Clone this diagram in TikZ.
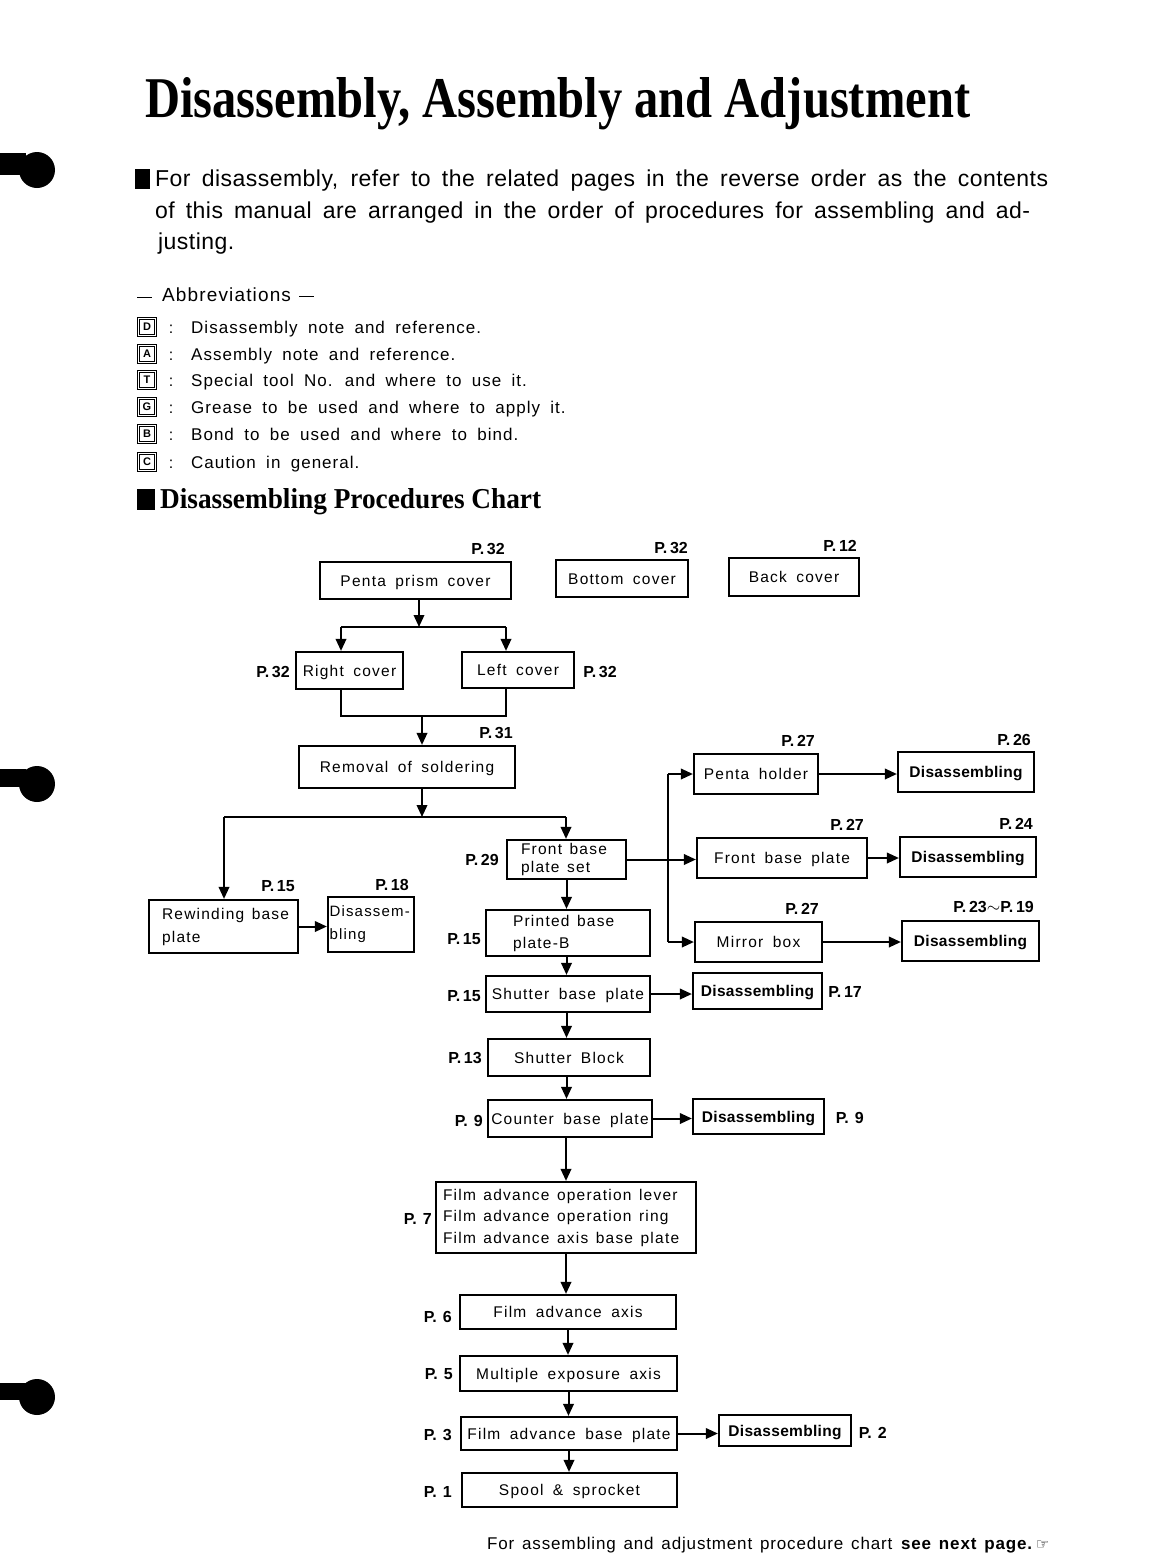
\documentclass[tikz,border=0pt]{standalone}
\usepackage{fontspec}
\usepackage{graphicx}
\usetikzlibrary{arrows.meta}
\setmainfont{Liberation Sans}
\newfontfamily\boxf[LetterSpace=8,WordSpace=1.7]{Liberation Sans}
\newfontfamily\disf[LetterSpace=2]{Liberation Sans}
\newfontfamily\pfont{Liberation Sans}
\newfontfamily\parf[LetterSpace=2]{Liberation Sans}
\newfontfamily\abf[LetterSpace=6,WordSpace=1.8]{Liberation Sans}
\newfontfamily\ftf[LetterSpace=5,WordSpace=1.4]{Liberation Sans}
\newfontfamily\titf{Liberation Serif}
\newfontfamily\symf{DejaVu Sans}
\newcommand\pgl[1]{P.\,#1}
\newcommand\wsp{\hspace{7.5pt}}
\tikzset{
  bx/.style={draw, line width=2.2pt, inner sep=0pt, text height=11pt, text depth=0pt, font=\boxf\fontsize{15.5}{21.5}\selectfont},
  mbx/.style={bx, text height=, text depth=},
  dbx/.style={draw, line width=2.2pt, inner sep=0pt, text height=11pt, text depth=0pt, font=\disf\bfseries\fontsize{15.5}{18}\selectfont},
  pl/.style={inner sep=0pt, font=\pfont\bfseries\fontsize{16}{16}\selectfont},
  arr/.style={line width=2pt, -{Triangle[length=12pt,width=10.5pt]}},
  ln/.style={line width=2pt},
  txt/.style={inner sep=0pt, anchor=base west},
  icon/.style={draw, line width=1.3pt, double, double distance=0.8pt, minimum size=17.5pt, inner sep=0pt, font=\bfseries\fontsize{11}{11}\selectfont},
  abt/.style={inner sep=0pt, anchor=base west, font=\abf\fontsize{17}{17}\selectfont},
  colon/.style={inner sep=0pt, anchor=base, font=\fontsize{16}{16}\selectfont}
}
\begin{document}
\begin{tikzpicture}[x=1pt,y=-1pt]
\useasboundingbox (0,0) rectangle (1152,1564);
\fill[white] (0,0) rectangle (1152,1564);

% punch holes
\fill (37,170) circle (18); \fill (0,153) rectangle (26,175);
\fill (37,784) circle (18); \fill (0,769) rectangle (26,787);
\fill (37,1397) circle (18); \fill (0,1383) rectangle (26,1400);

% title
\node[txt] (title) at (145,117) {\resizebox{825pt}{40pt}{\titf\bfseries Disassembly, Assembly and Adjustment}};

% paragraph
\fill (135,169) rectangle (150,189);
\node[txt] (p1) at (155,186) {\parf\fontsize{23}{23}\selectfont\makebox[893pt][s]{For disassembly, refer to the related pages in the reverse order as the contents}};
\node[txt] (p2) at (155,218) {\parf\fontsize{23}{23}\selectfont\makebox[875pt][s]{of this manual are arranged in the order of procedures for assembling and ad-}};
\node[txt] (p3) at (158,249) {\parf\fontsize{23}{23}\selectfont justing.};

% abbreviations
\node[abt, font=\abf\fontsize{19}{19}\selectfont] (abh) at (137,301) {\raisebox{3pt}{\rule{15pt}{1.5pt}}\hspace{10pt}Abbreviations\hspace{8pt}\raisebox{4pt}{\rule{15pt}{1.5pt}}};
\node[icon] (iD) at (147,327) {D};
\node[icon] (iA) at (147,354) {A};
\node[icon] (iT) at (147,380) {T};
\node[icon] (iG) at (147,407) {G};
\node[icon] (iB) at (147,434) {B};
\node[icon] (iC) at (147,462) {C};
\node[colon] (cD) at (171,333) {:};
\node[colon] (cA) at (171,360) {:};
\node[colon] (cT) at (171,386) {:};
\node[colon] (cG) at (171,413) {:};
\node[colon] (cB) at (171,440) {:};
\node[colon] (cC) at (171,468) {:};
\node[abt] (tD) at (191,333) {Disassembly note and reference.};
\node[abt] (tA) at (191,360) {Assembly note and reference.};
\node[abt] (tT) at (191,386) {Special tool No. and where to use it.};
\node[abt] (tG) at (191,413) {Grease to be used and where to apply it.};
\node[abt] (tB) at (191,440) {Bond to be used and where to bind.};
\node[abt] (tC) at (191,468) {Caution in general.};

% heading
\fill (137,489) rectangle (155,510);
\node[txt] (head) at (160,508) {\resizebox{381pt}{20pt}{\titf\bfseries Disassembling Procedures Chart}};

% ---- chart boxes ----
\node[bx, minimum width=191, minimum height=37] (pp) at (415.5,580.5) {Penta prism cover};
\node[bx, minimum width=132, minimum height=37] (bc) at (622,578.5) {Bottom cover};
\node[bx, minimum width=130, minimum height=38] (bk) at (794,577) {Back cover};
\node[bx, minimum width=107, minimum height=37] (rc) at (349.5,670.5) {Right cover};
\node[bx, minimum width=112, minimum height=36] (lc) at (518,670) {Left cover};
\node[bx, minimum width=216, minimum height=42] (rem) at (407,767) {Removal of soldering};
\node[mbx, minimum height=39, align=left, inner xsep=14pt, text width=91pt, font=\boxf\fontsize{15.5}{18}\selectfont] (fbps) at (566.5,859.5) {\mbox{Front\wsp base}\\\mbox{plate\wsp set}};
\node[mbx, minimum height=53, align=left, inner xsep=13pt, text width=123pt, font=\boxf\fontsize{15.5}{23}\selectfont] (rwb) at (223.5,926.5) {\mbox{Rewinding\wsp base}\\plate};
\node[mbx, minimum height=55, align=left, inner xsep=1.5pt, text width=83pt, font=\boxf\fontsize{15}{23}\selectfont] (dl) at (371,924.5) {Disassem-\\bling};
\node[mbx, minimum height=46, align=left, inner xsep=27pt, text width=110pt, font=\boxf\fontsize{15.5}{22}\selectfont] (pbb) at (568,933) {\mbox{Printed\wsp base}\\plate-B};
\node[bx, minimum width=164, minimum height=36] (sbp) at (568,994) {Shutter base plate};
\node[bx, minimum width=162, minimum height=37] (sb) at (569,1057.5) {Shutter Block};
\node[bx, minimum width=164, minimum height=37] (cbp) at (570,1118.5) {Counter base plate};
\node[mbx, minimum height=71, align=left, inner xsep=7pt, text width=246pt] (fa) at (566,1217.5) {\mbox{Film\wsp advance\wsp operation\wsp lever}\\\mbox{Film\wsp advance\wsp operation\wsp ring}\\\mbox{Film\wsp advance\wsp axis\wsp base\wsp plate}};
\node[bx, minimum width=216, minimum height=34] (faa) at (568,1312) {Film advance axis};
\node[bx, minimum width=217, minimum height=35] (mea) at (568.5,1373.5) {Multiple exposure axis};
\node[bx, minimum width=216, minimum height=33] (fabp) at (569,1433.5) {Film advance base plate};
\node[bx, minimum width=215, minimum height=34] (ss) at (569.5,1490) {Spool \& sprocket};
\node[dbx, minimum width=132, minimum height=31] (d2) at (785,1430.5) {Disassembling};
\node[dbx, minimum width=131, minimum height=35] (d9) at (758.5,1116.5) {Disassembling};
\node[dbx, minimum width=129, minimum height=36] (d17) at (757.5,991) {Disassembling};
\node[bx, minimum width=124, minimum height=40] (ph) at (756,774) {Penta holder};
\node[bx, minimum width=170, minimum height=40] (fbp) at (782,858) {Front base plate};
\node[bx, minimum width=127, minimum height=40] (mb) at (758.5,942) {Mirror box};
\node[dbx, minimum width=136, minimum height=40] (d26) at (966,772) {Disassembling};
\node[dbx, minimum width=136, minimum height=40] (d24) at (968,857) {Disassembling};
\node[dbx, minimum width=137, minimum height=40] (d23) at (970.5,941) {Disassembling};

% ---- page labels ----
\node[pl, anchor=east] (lpp) at (505,549) {\pgl{32}};
\node[pl, anchor=east] (lbc) at (688,548) {\pgl{32}};
\node[pl, anchor=east] (lbk) at (857,546) {\pgl{12}};
\node[pl, anchor=east] (lrc) at (290,672) {\pgl{32}};
\node[pl, anchor=east] (llc) at (617,672) {\pgl{32}};
\node[pl, anchor=east] (lrem) at (513,733) {\pgl{31}};
\node[pl, anchor=east] (lph) at (815,741) {\pgl{27}};
\node[pl, anchor=east] (ld26) at (1031,740) {\pgl{26}};
\node[pl, anchor=east] (lfbp) at (864,825) {\pgl{27}};
\node[pl, anchor=east] (ld24) at (1033,824) {\pgl{24}};
\node[pl, anchor=east] (lfbps) at (499,860) {\pgl{29}};
\node[pl, anchor=east] (lrwb) at (295,886) {\pgl{15}};
\node[pl, anchor=east] (ldl) at (409,885) {\pgl{18}};
\node[pl, anchor=east] (lmb) at (819,909) {\pgl{27}};
\node[pl, anchor=east] (ld23) at (1034,907) {\pgl{23}$\sim$\pgl{19}};
\node[pl, anchor=east] (lpbb) at (481,939) {\pgl{15}};
\node[pl, anchor=east] (lsbp) at (481,996) {\pgl{15}};
\node[pl, anchor=east] (ld17) at (862,992) {\pgl{17}};
\node[pl, anchor=east] (lsb) at (482,1058) {\pgl{13}};
\node[pl, anchor=east] (lcbp) at (483,1121) {P.\hspace{6pt}9};
\node[pl, anchor=east] (ld9) at (864,1118) {P.\hspace{6pt}9};
\node[pl, anchor=east] (lfa) at (432,1219) {P.\hspace{6pt}7};
\node[pl, anchor=east] (lfaa) at (452,1317) {P.\hspace{6pt}6};
\node[pl, anchor=east] (lmea) at (453,1374) {P.\hspace{6pt}5};
\node[pl, anchor=east] (lfabp) at (452,1435) {P.\hspace{6pt}3};
\node[pl, anchor=east] (ld2) at (887,1433) {P.\hspace{6pt}2};
\node[pl, anchor=east] (lss) at (452,1492) {P.\hspace{6pt}1};

% ---- connectors ----
\coordinate (j1) at (419,627);
\coordinate (j1L) at (341,627);
\coordinate (j1R) at (506,627);
\draw[arr] (pp.south -| j1) -- (j1);
\draw[ln] (j1L) -- (j1R);
\draw[arr] (j1L) -- (j1L |- rc.north);
\draw[arr] (j1R) -- (j1R |- lc.north);
\coordinate (j2) at (422,716);
\coordinate (j2L) at (341,716);
\coordinate (j2R) at (506,716);
\draw[ln] (j2L |- rc.south) -- (j2L) -- (j2R) -- (j2R |- lc.south);
\draw[arr] (j2) -- (j2 |- rem.north);
\coordinate (j3) at (422,817);
\coordinate (j3L) at (224,817);
\coordinate (j3R) at (566,817);
\draw[arr] (rem.south -| j3) -- (j3);
\draw[ln] (j3L) -- (j3R);
\draw[arr] (j3L) -- (j3L |- rwb.north);
\draw[arr] (j3R) -- (j3R |- fbps.north);
\draw[arr] (rwb.east) -- (rwb.east -| dl.west);
\draw[arr] (fbps.south) -- (fbps.south |- pbb.north);
\draw[arr] (pbb.south -| fbps.south) -- (fbps.south |- sbp.north);
\draw[arr] (sbp.south -| fbps.south) -- (fbps.south |- sb.north);
\draw[arr] (sb.south -| fbps.south) -- (fbps.south |- cbp.north);
\draw[arr] (cbp.south -| fa.south) -- (fa.north);
\draw[arr] (fa.south) -- (fa.south |- faa.north);
\draw[arr] (faa.south) -- (faa.south |- mea.north);
\draw[arr] (mea.south) -- (mea.south |- fabp.north);
\draw[arr] (fabp.south) -- (fabp.south |- ss.north);
\coordinate (v1) at (668,774);
\coordinate (v2) at (668,942);
\draw[arr] (fbps.east) -- (fbps.east -| fbp.west);
\draw[ln] (v1) -- (v2);
\draw[arr] (v1) -- (ph.west);
\draw[arr] (v2) -- (mb.west);
\draw[arr] (ph.east) -- (ph.east -| d26.west);
\draw[arr] (fbp.east) -- (fbp.east -| d24.west);
\draw[arr] (mb.east) -- (mb.east -| d23.west);
\draw[arr] (sbp.east) -- (sbp.east -| d17.west);
\draw[arr] (cbp.east) -- (cbp.east -| d9.west);
\draw[arr] (fabp.east) -- (fabp.east -| d2.west);

% footer
\node[txt, font=\ftf\fontsize{17}{17}\selectfont] (foot) at (487,1549) {For assembling and adjustment procedure chart \textbf{see next page.}\,{\symf\fontsize{15}{15}\selectfont ☞}};
\end{tikzpicture}
\end{document}
